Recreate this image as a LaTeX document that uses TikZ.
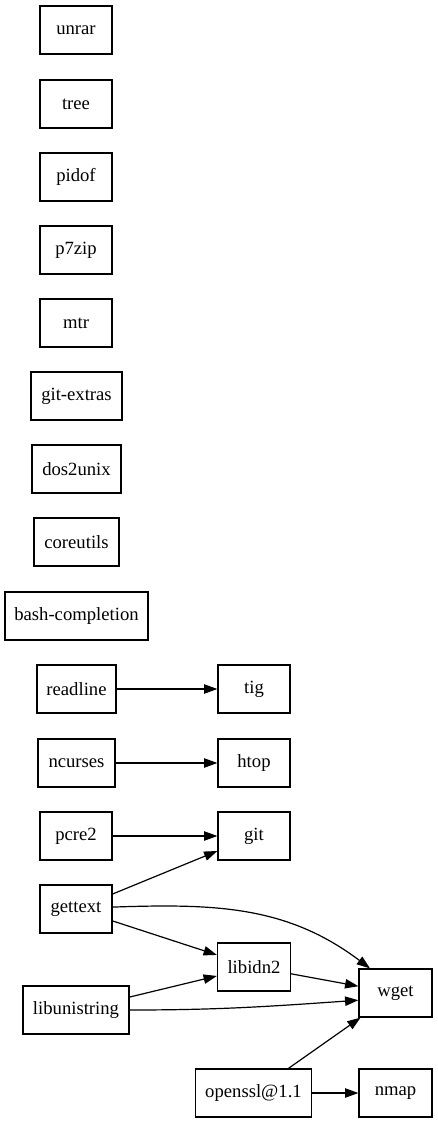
\documentclass[tikz,border=0pt]{standalone}
\usepackage{fontspec}
\setmainfont{Liberation Serif}
\usetikzlibrary{arrows.meta}
\begin{document}
\begin{tikzpicture}[x=0.75pt,y=-0.75pt,
  pkg/.style={draw=black, line width=0.9pt, rectangle, inner sep=0pt, minimum height=36pt,
     font=\fontsize{14pt}{16pt}\selectfont},
  dep/.style={draw=black, line width=0.9pt, -{Triangle[length=10pt,width=7pt]}}]
\useasboundingbox (0,0) rectangle (437,1123);
% left column
\node[pkg, minimum width=54pt] (unrar) at (76,30) {unrar};
\node[pkg, minimum width=54pt] (tree) at (76,104) {tree};
\node[pkg, minimum width=54pt] (pidof) at (76,177) {pidof};
\node[pkg, minimum width=54pt] (p7zip) at (76,250) {p7zip};
\node[pkg, minimum width=54pt] (mtr) at (76,323) {mtr};
\node[pkg, minimum width=68.25pt] (gitextras) at (76.5,396) {git-extras};
\node[pkg, minimum width=66.75pt] (dos2unix) at (76.5,469) {dos2unix};
\node[pkg, minimum width=63.75pt] (coreutils) at (76.5,542) {coreutils};
\node[pkg, minimum width=107.25pt] (bashcompletion) at (76.5,616) {bash-completion};
\node[pkg, minimum width=59.25pt] (readline) at (76.5,689) {readline};
\node[pkg, minimum width=57.75pt] (ncurses) at (76.5,763) {ncurses};
\node[pkg, minimum width=54pt] (pcre2) at (76,836) {pcre2};
\node[pkg, minimum width=54pt] (gettext) at (76,909) {gettext};
\node[pkg, minimum width=79.5pt] (libunistring) at (76,1010) {libunistring};
\node[pkg, minimum width=87pt] (openssl) at (253.5,1093) {openssl@1.1};
% right side
\node[pkg, minimum width=54pt] (tig) at (254,689) {tig};
\node[pkg, minimum width=54pt] (htop) at (254,763) {htop};
\node[pkg, minimum width=54pt] (git) at (254,836) {git};
\node[pkg, minimum width=54.75pt] (libidn2) at (254,967) {libidn2};
\node[pkg, minimum width=54.75pt] (wget) at (395.5,993) {wget};
\node[pkg, minimum width=54.75pt] (nmap) at (395.5,1093) {nmap};
% edges
\draw[dep] (readline) -- (tig);
\draw[dep] (ncurses) -- (htop);
\draw[dep] (pcre2) -- (git);
\draw[dep] (gettext) -- (git);
\draw[dep] (gettext) -- (libidn2);
\draw[dep] (gettext.3) to[out=2,in=143] (wget.136);
\draw[dep] (libunistring) -- (libidn2);
\draw[dep] (libunistring.east) to[out=0,in=184] (wget.191);
\draw[dep] (libidn2) -- (wget);
\draw[dep] (openssl) -- (wget);
\draw[dep] (openssl) -- (nmap);
\end{tikzpicture}
\end{document}
